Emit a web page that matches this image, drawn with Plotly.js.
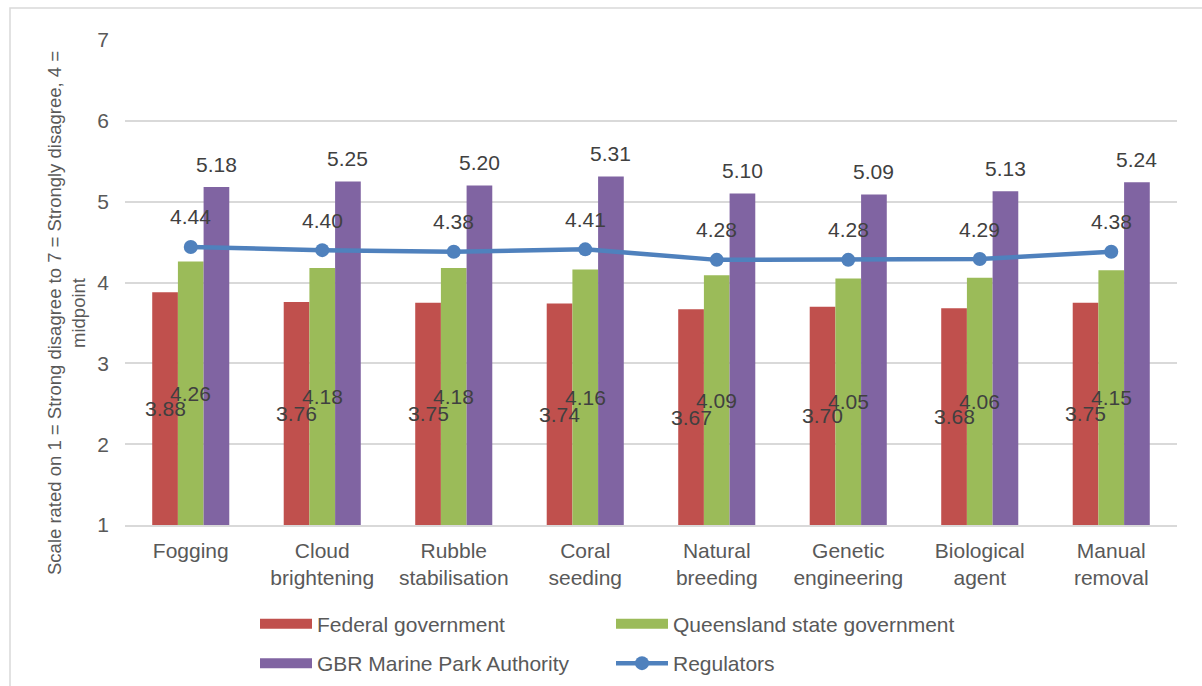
<!DOCTYPE html>
<html>
<head>
<meta charset="utf-8">
<script src="https://cdn.plot.ly/plotly-3.0.1.min.js"></script>
<style>html,body{margin:0;padding:0;background:#fff;}#chart{width:1202px;height:686px;}</style>
</head>
<body>
<div id="chart"></div>
<script>
var categories = ["Fogging", "Cloud<br>brightening", "Rubble<br>stabilisation", "Coral<br>seeding", "Natural<br>breeding", "Genetic<br>engineering", "Biological<br>agent", "Manual<br>removal"];
var federal = [3.88, 3.76, 3.75, 3.74, 3.67, 3.70, 3.68, 3.75];
var queensland = [4.26, 4.18, 4.18, 4.16, 4.09, 4.05, 4.06, 4.15];
var gbrmpa = [5.18, 5.25, 5.20, 5.31, 5.10, 5.09, 5.13, 5.24];
var regulators = [4.44, 4.40, 4.38, 4.41, 4.28, 4.28, 4.29, 4.38];
var seriesNames = ["Federal government", "Queensland state government", "GBR Marine Park Authority", "Regulators"];
var yTicks = [1, 2, 3, 4, 5, 6, 7];

var colors = ["#C0504D", "#9BBB59", "#8064A2", "#4F81BD"];
var FONT = "Liberation Sans, Arial, sans-serif";
var labelColor = "#404040";
var tickColor = "#595959";
var bargap = 0.414;
var barW = (1 - bargap) / 3;

var idx = categories.map(function (c, i) { return i; });

var traces = [];
[federal, queensland, gbrmpa].forEach(function (vals, s) {
  traces.push({
    type: "bar", x: idx, y: vals, name: seriesNames[s],
    marker: {color: colors[s]}, showlegend: false, hoverinfo: "y"
  });
});
traces.push({
  type: "scatter", mode: "lines+markers", x: idx, y: regulators, name: seriesNames[3],
  line: {color: colors[3], width: 4.5}, marker: {color: colors[3], size: 14},
  legend: "legend4"
});
// legend swatches for bar series
var legendIds = ["legend", "legend2", "legend3"];
[0, 1, 2].forEach(function (s) {
  traces.push({
    type: "scatter", mode: "lines", x: [null], y: [null], name: seriesNames[s],
    line: {color: colors[s], width: 11}, legend: legendIds[s], hoverinfo: "skip"
  });
});

var annotations = [];
idx.forEach(function (i) {
  annotations.push({x: i - barW, y: (1 + federal[i]) / 2, text: federal[i].toFixed(2), showarrow: false,
    xanchor: "center", yanchor: "middle", font: {family: FONT, size: 21, color: labelColor}});
  annotations.push({x: i, y: (1 + queensland[i]) / 2, text: queensland[i].toFixed(2), showarrow: false,
    xanchor: "center", yanchor: "middle", font: {family: FONT, size: 21, color: labelColor}});
  annotations.push({x: i + barW, y: gbrmpa[i], yshift: 23, text: gbrmpa[i].toFixed(2), showarrow: false,
    xanchor: "center", yanchor: "middle", font: {family: FONT, size: 21, color: labelColor}});
  annotations.push({x: i, y: regulators[i], yshift: 30, text: regulators[i].toFixed(2), showarrow: false,
    xanchor: "center", yanchor: "middle", font: {family: FONT, size: 21, color: labelColor}});
});
annotations.push({
  xref: "paper", yref: "paper", x: (66 - 125) / 1052, y: (525 - 313) / 485,
  text: "Scale rated on 1 = Strong disagree to 7 = Strongly disagree, 4 =<br>midpoint",
  textangle: -90, showarrow: false, xanchor: "center", yanchor: "middle",
  font: {family: FONT, size: 18.5, color: tickColor}
});

function leg(x, y) {
  return {orientation: "v", x: x, y: y, xanchor: "left", yanchor: "middle", itemwidth: 52,
    font: {family: FONT, size: 21, color: tickColor}, bgcolor: "rgba(0,0,0,0)", borderwidth: 0,
    itemclick: false, itemdoubleclick: false};
}

var layout = {
  width: 1202, height: 686,
  margin: {l: 125, r: 25, t: 40, b: 161, pad: 0, autoexpand: false},
  paper_bgcolor: "#ffffff", plot_bgcolor: "#ffffff",
  font: {family: FONT, size: 21, color: tickColor},
  barmode: "group", bargap: bargap, bargroupgap: 0,
  xaxis: {
    tickmode: "array", tickvals: idx, ticktext: categories, range: [-0.5, 7.5],
    showgrid: false, zeroline: false, showline: true, linecolor: "#d9d9d9", linewidth: 1.5,
    ticks: "", ticklabelstandoff: 6, tickfont: {family: FONT, size: 21, color: tickColor}
  },
  yaxis: {
    range: [1, 7], tickmode: "array", tickvals: yTicks, showgrid: true, gridcolor: "#d9d9d9", gridwidth: 1.5,
    zeroline: false, showline: false, ticks: "", ticklabelstandoff: 15,
    tickfont: {family: FONT, size: 21, color: tickColor}
  },
  legend: leg((255 - 125) / 1052, (525 - 624) / 485),
  legend2: leg((611 - 125) / 1052, (525 - 624) / 485),
  legend3: leg((255 - 125) / 1052, (525 - 663.5) / 485),
  legend4: leg((611 - 125) / 1052, (525 - 663.5) / 485),
  annotations: annotations,
  shapes: [{
    type: "rect", xref: "paper", yref: "paper", layer: "below",
    x0: (10 - 125) / 1052, x1: (1230 - 125) / 1052, y0: (525 - 720) / 485, y1: (525 - 8) / 485,
    line: {color: "#d9d9d9", width: 1.5}, fillcolor: "rgba(0,0,0,0)"
  }],
  hovermode: "closest"
};

Plotly.newPlot("chart", traces, layout, {displayModeBar: false, responsive: false});
</script>
</body>
</html>
